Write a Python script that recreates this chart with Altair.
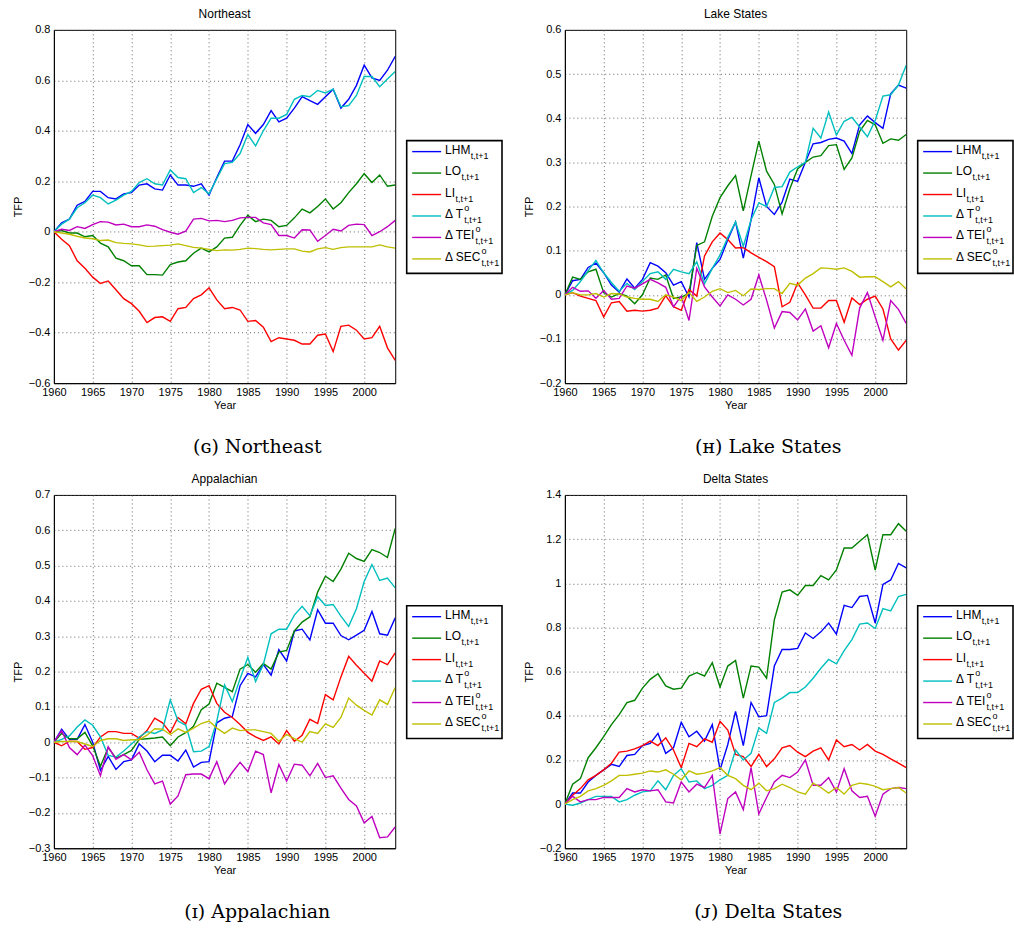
import altair as alt
import pandas as pd

# ---------------- data ----------------
years = list(range(1960, 2005))
series_keys = ["LHM", "LO", "LI", "dT", "dTEI", "dSEC"]
series_colors = ["#0000ff", "#008000", "#ff0000", "#00bfbf", "#bf00bf", "#bfbf00"]
legend_main = ["LHM", "LO", "LI", "Δ T", "Δ TEI", "Δ SEC"]
legend_sup = ["", "", "", "o", "o", "o"]
legend_sub = ["t,t+1"] * 6
x_ticks = [1960, 1965, 1970, 1975, 1980, 1985, 1990, 1995, 2000]

# Northeast
ne_lhm = [0, 0.035, 0.05, 0.105, 0.12, 0.16, 0.16, 0.135, 0.13, 0.15,
          0.155, 0.185, 0.19, 0.17, 0.165, 0.225, 0.185, 0.185, 0.18, 0.19,
          0.145, 0.215, 0.28, 0.28, 0.345, 0.425, 0.39, 0.425, 0.48, 0.435,
          0.45, 0.49, 0.535, 0.52, 0.505, 0.535, 0.565, 0.49, 0.525, 0.58,
          0.66, 0.61, 0.60, 0.64, 0.695]
ne_lo = [0, 0.005, -0.005, -0.005, -0.02, -0.015, -0.045, -0.06, -0.105, -0.115,
         -0.135, -0.135, -0.17, -0.17, -0.172, -0.13, -0.12, -0.115, -0.085, -0.065,
         -0.08, -0.06, -0.025, -0.022, 0.025, 0.065, 0.04, 0.05, 0.045, 0.02,
         0.025, 0.055, 0.09, 0.075, 0.1, 0.13, 0.09, 0.115, 0.155, 0.19,
         0.23, 0.195, 0.225, 0.18, 0.185]
ne_li = [0, -0.03, -0.055, -0.115, -0.145, -0.18, -0.205, -0.195, -0.23, -0.265,
         -0.285, -0.315, -0.36, -0.34, -0.337, -0.355, -0.305, -0.3, -0.265, -0.25,
         -0.222, -0.27, -0.305, -0.3, -0.31, -0.355, -0.352, -0.378, -0.435, -0.42,
         -0.425, -0.43, -0.445, -0.445, -0.41, -0.405, -0.475, -0.375, -0.37, -0.39,
         -0.425, -0.42, -0.375, -0.46, -0.51]
ne_dt = [0, 0.03, 0.05, 0.095, 0.115, 0.145, 0.135, 0.11, 0.125, 0.145,
         0.16, 0.195, 0.21, 0.19, 0.185, 0.245, 0.215, 0.21, 0.155, 0.175,
         0.15, 0.21, 0.27, 0.275, 0.31, 0.385, 0.34, 0.4, 0.45, 0.45,
         0.465, 0.525, 0.54, 0.535, 0.56, 0.55, 0.565, 0.495, 0.5, 0.54,
         0.615, 0.615, 0.575, 0.605, 0.635]
ne_dtei = [0, 0.01, 0.005, 0.02, 0.013, 0.028, 0.04, 0.038, 0.027, 0.03,
           0.02, 0.02, 0.027, 0.022, 0.008, -0.002, -0.01, 0.002, 0.05, 0.053,
           0.043, 0.045, 0.04, 0.045, 0.055, 0.057, 0.057, 0.035, 0.028, -0.015,
           -0.015, -0.025, 0.008, 0.007, -0.038, -0.015, 0.01, 0.003, 0.025, 0.03,
           0.028, -0.015, 0.0, 0.02, 0.045]
ne_dsec = [0, -0.005, -0.01, -0.018, -0.025, -0.028, -0.035, -0.033, -0.043, -0.046,
           -0.048, -0.052, -0.058, -0.057, -0.055, -0.053, -0.048, -0.055, -0.062, -0.065,
           -0.07, -0.075, -0.072, -0.073, -0.07, -0.065, -0.067, -0.07, -0.072, -0.07,
           -0.068, -0.068, -0.077, -0.08, -0.068, -0.063, -0.07, -0.063, -0.06, -0.06,
           -0.06, -0.06, -0.052, -0.06, -0.065]

# Lake States
ls_lhm = [0, 0.032, 0.035, 0.062, 0.072, 0.05, 0.022, 0.006, 0.036, 0.015,
          0.035, 0.073, 0.065, 0.05, 0.022, 0.03, -0.005, 0.118, 0.035, 0.06,
          0.08, 0.125, 0.165, 0.083, 0.17, 0.265, 0.2, 0.182, 0.21, 0.262,
          0.257, 0.3, 0.342, 0.345, 0.352, 0.355, 0.348, 0.32, 0.385, 0.405,
          0.39, 0.377, 0.455, 0.475, 0.468]
ls_lo = [0, 0.04, 0.035, 0.052, 0.058, 0.005, -0.005, 0.003, -0.003, -0.02,
         0.0, 0.038, 0.035, 0.045, -0.008, -0.005, 0.003, 0.112, 0.12, 0.178,
         0.22, 0.247, 0.27, 0.19, 0.27, 0.348, 0.28, 0.25, 0.183, 0.24,
         0.285, 0.3, 0.312, 0.315, 0.338, 0.34, 0.284, 0.31, 0.37, 0.395,
         0.385, 0.343, 0.353, 0.35, 0.363]
ls_li = [0, 0.005, -0.003, -0.008, -0.013, -0.05, -0.018, -0.015, -0.037, -0.035,
         -0.037, -0.035, -0.03, -0.002, -0.027, -0.035, 0.012, -0.003, 0.088, 0.12,
         0.14, 0.125, 0.106, 0.107, 0.095, 0.085, 0.075, 0.064, -0.027, -0.017,
         0.027, 0.0, -0.03, -0.03, -0.013, -0.013, -0.062, -0.007, -0.022, -0.01,
         -0.003, -0.032, -0.1, -0.125, -0.103]
ls_dt = [0, 0.01, 0.03, 0.055, 0.078, 0.05, 0.028, 0.008, 0.026, 0.012,
         0.03, 0.048, 0.052, 0.035, 0.058, 0.052, 0.048, 0.075, 0.025, 0.06,
         0.09, 0.13, 0.165, 0.11, 0.17, 0.208, 0.2, 0.243, 0.245, 0.278,
         0.29, 0.3, 0.377, 0.355, 0.414, 0.362, 0.393, 0.402, 0.38, 0.358,
         0.395, 0.45, 0.453, 0.475, 0.52]
ls_dtei = [0, 0.017, 0.008, 0.009, -0.008, 0.01, -0.01, -0.008, 0.02, 0.015,
           0.025, 0.035, 0.027, 0.017, -0.027, -0.003, -0.058, 0.06, 0.018, -0.005,
           -0.025, 0.0, -0.01, -0.023, -0.01, 0.045, -0.012, -0.075, -0.038, -0.04,
           -0.057, -0.032, -0.082, -0.07, -0.12, -0.065, -0.103, -0.137, -0.03, 0.005,
           -0.05, -0.103, -0.013, -0.033, -0.065]
ls_dsec = [0, 0.005, 0.0, 0.0, 0.003, -0.005, 0.003, 0.002, -0.005, -0.008,
           -0.01, -0.01, -0.015, 0.0, -0.005, -0.013, 0.005, -0.015, -0.005, 0.008,
           0.014, 0.005, 0.01, -0.002, 0.013, 0.012, 0.014, 0.014, 0.003, 0.026,
           0.022, 0.038, 0.048, 0.061, 0.06, 0.058, 0.061, 0.053, 0.04, 0.041,
           0.041, 0.03, 0.018, 0.03, 0.013]

# Appalachian
ap_lhm = [0, 0.037, 0.008, 0.008, 0.05, 0.0, -0.08, -0.04, -0.077, -0.055,
          -0.05, -0.005, -0.025, -0.055, -0.037, -0.037, -0.053, -0.022, -0.07, -0.057,
          -0.055, 0.055, 0.068, 0.073, 0.16, 0.195, 0.185, 0.22, 0.19, 0.262,
          0.23, 0.315, 0.32, 0.29, 0.375, 0.337, 0.337, 0.302, 0.29, 0.303,
          0.317, 0.37, 0.307, 0.303, 0.352]
ap_lo = [0, 0.025, 0.01, 0.01, 0.028, -0.01, -0.068, -0.015, -0.045, -0.035,
         -0.023, 0.008, 0.01, 0.012, 0.015, -0.01, 0.015, 0.027, 0.045, 0.092,
         0.108, 0.167, 0.155, 0.143, 0.207, 0.22, 0.198, 0.223, 0.207, 0.255,
         0.26, 0.315, 0.34, 0.355, 0.425, 0.47, 0.455, 0.49, 0.535, 0.52,
         0.512, 0.545, 0.537, 0.523, 0.605]
ap_li = [0, -0.01, 0.003, 0.002, -0.02, -0.015, 0.015, 0.03, 0.03, 0.025,
         0.025, 0.012, 0.033, 0.068, 0.055, 0.027, 0.07, 0.052, 0.11, 0.15,
         0.16, 0.11, 0.085, 0.07, 0.05, 0.028, 0.015, 0.005, 0.015, -0.005,
         0.033, 0.003, 0.02, 0.065, 0.053, 0.135, 0.12, 0.185, 0.243, 0.218,
         0.195, 0.173, 0.23, 0.22, 0.253]
ap_dt = [0, 0.008, 0.018, 0.043, 0.063, 0.048, 0.015, -0.037, -0.042, -0.025,
         -0.005, 0.015, 0.03, 0.025, 0.035, 0.12, 0.06, 0.048, -0.027, -0.025,
         -0.012, 0.06, 0.162, 0.115, 0.18, 0.24, 0.172, 0.22, 0.307, 0.32,
         0.32, 0.36, 0.385, 0.358, 0.412, 0.387, 0.39, 0.357, 0.328, 0.378,
         0.455, 0.503, 0.458, 0.465, 0.437]
ap_dtei = [0, 0.033, -0.015, -0.035, -0.008, -0.038, -0.095, -0.013, -0.048, -0.035,
           -0.05, -0.028, -0.078, -0.118, -0.11, -0.175, -0.152, -0.092, -0.09, -0.09,
           -0.103, -0.055, -0.118, -0.085, -0.057, -0.083, -0.025, -0.035, -0.143, -0.063,
           -0.11, -0.062, -0.065, -0.095, -0.06, -0.1, -0.095, -0.13, -0.162, -0.18,
           -0.228, -0.21, -0.27, -0.268, -0.24]
ap_dsec = [0, 0.002, 0.002, 0.002, -0.005, -0.012, 0.005, 0.01, 0.01, 0.005,
           0.007, 0.007, 0.02, 0.038, 0.037, 0.022, 0.038, 0.028, 0.04, 0.053,
           0.06, 0.04, 0.025, 0.04, 0.033, 0.035, 0.035, 0.03, 0.025, 0.003,
           0.022, 0.01, 0.0, 0.03, 0.025, 0.052, 0.042, 0.07, 0.125, 0.105,
           0.09, 0.077, 0.12, 0.107, 0.155]

# Delta States
ds_lhm = [0, 0.05, 0.05, 0.1, 0.13, 0.155, 0.18, 0.17, 0.22, 0.225,
          0.265, 0.275, 0.32, 0.23, 0.255, 0.37, 0.305, 0.33, 0.285, 0.36,
          0.155, 0.27, 0.42, 0.265, 0.46, 0.395, 0.4, 0.625, 0.7, 0.7,
          0.705, 0.775, 0.75, 0.78, 0.82, 0.77, 0.9, 0.89, 0.94, 0.945,
          0.82, 0.995, 1.015, 1.09, 1.07]
ds_lo = [0, 0.09, 0.115, 0.21, 0.255, 0.305, 0.36, 0.405, 0.46, 0.47,
         0.525, 0.565, 0.59, 0.535, 0.52, 0.525, 0.58, 0.595, 0.58, 0.64,
         0.53, 0.625, 0.65, 0.48, 0.625, 0.62, 0.57, 0.835, 0.96, 0.97,
         0.945, 0.99, 0.99, 1.035, 1.015, 1.06, 1.16, 1.16, 1.19, 1.22,
         1.06, 1.22, 1.22, 1.27, 1.235]
ds_li = [0, 0.04, 0.07, 0.11, 0.13, 0.155, 0.185, 0.235, 0.24, 0.25,
         0.265, 0.285, 0.265, 0.3, 0.245, 0.165, 0.275, 0.26, 0.295, 0.28,
         0.375, 0.335, 0.225, 0.215, 0.17, 0.225, 0.17, 0.205, 0.255, 0.265,
         0.235, 0.215, 0.24, 0.255, 0.2, 0.29, 0.26, 0.27, 0.245, 0.27,
         0.24, 0.225, 0.205, 0.185, 0.165]
ds_dt = [0, -0.005, 0.005, 0.02, 0.035, 0.035, 0.035, 0.01, 0.02, 0.04,
         0.055, 0.06, 0.105, 0.065, 0.13, 0.16, 0.1, 0.105, 0.07, 0.085,
         0.11, 0.13, 0.245, 0.2, 0.23, 0.345, 0.32, 0.46, 0.48, 0.505,
         0.505, 0.53, 0.57, 0.615, 0.655, 0.635, 0.695, 0.745, 0.815, 0.82,
         0.795, 0.885, 0.875, 0.94, 0.95]
ds_dtei = [0, 0.035, 0.01, 0.02, 0.02, 0.03, 0.03, 0.03, 0.07, 0.055,
           0.065, 0.06, 0.065, 0.01, 0.005, 0.1, 0.055, 0.09, 0.075, 0.13,
           -0.135, 0.025, 0.055, -0.025, 0.165, -0.045, 0.03, 0.1, 0.13, 0.12,
           0.145, 0.2, 0.085, 0.085, 0.12, 0.055, 0.16, 0.06, 0.03, 0.035,
           -0.055, 0.045, 0.07, 0.075, 0.07]
ds_dsec = [0, 0.02, 0.035, 0.06, 0.07, 0.085, 0.105, 0.13, 0.13, 0.135,
           0.14, 0.15, 0.145, 0.155, 0.135, 0.11, 0.15, 0.135, 0.14, 0.15,
           0.165, 0.13, 0.115, 0.085, 0.065, 0.095, 0.06, 0.07, 0.09, 0.075,
           0.055, 0.045, 0.095, 0.075, 0.05, 0.075, 0.045, 0.085, 0.095, 0.09,
           0.08, 0.065, 0.07, 0.075, 0.05]

panels = [
    dict(title="Northeast", caption="(ɢ) Northeast",
         series=[ne_lhm, ne_lo, ne_li, ne_dt, ne_dtei, ne_dsec],
         ydom=[-0.6, 0.8], yticks=[i / 10 for i in range(-6, 9, 2)]),
    dict(title="Lake States", caption="(ʜ) Lake States",
         series=[ls_lhm, ls_lo, ls_li, ls_dt, ls_dtei, ls_dsec],
         ydom=[-0.2, 0.6], yticks=[i / 10 for i in range(-2, 7)]),
    dict(title="Appalachian", caption="(ɪ) Appalachian",
         series=[ap_lhm, ap_lo, ap_li, ap_dt, ap_dtei, ap_dsec],
         ydom=[-0.3, 0.7], yticks=[i / 10 for i in range(-3, 8)]),
    dict(title="Delta States", caption="(ᴊ) Delta States",
         series=[ds_lhm, ds_lo, ds_li, ds_dt, ds_dtei, ds_dsec],
         ydom=[-0.2, 1.4], yticks=[i / 10 for i in range(-2, 15, 2)]),
]

PLOT_W, PLOT_H = 342, 354
LEG_W = 96
FONT = "Liberation Sans"
TITLE_OFFSET = 3
TITLE_SIZE = 12

color_scale = alt.Scale(domain=series_keys, range=series_colors)


def plot_panel(p):
    rows = []
    for key, vals in zip(series_keys, p["series"]):
        assert len(vals) == len(years), (p["title"], key, len(vals))
        for yr, v in zip(years, vals):
            rows.append({"year": yr, "series": key, "value": v})
    df = pd.DataFrame(rows)
    return alt.Chart(df).mark_line(strokeWidth=1.4, clip=True).encode(
        x=alt.X("year:Q",
                scale=alt.Scale(domain=[1960, 2004], nice=False, zero=False),
                axis=alt.Axis(values=x_ticks, format="d", title="Year", labelFlush=False)),
        y=alt.Y("value:Q",
                scale=alt.Scale(domain=p["ydom"], nice=False, zero=False),
                axis=alt.Axis(values=p["yticks"], format=".1~f", title="TFP", labelFlush=False)),
        color=alt.Color("series:N", scale=color_scale, legend=None),
    ).properties(
        width=PLOT_W, height=PLOT_H,
        title=alt.TitleParams(p["title"], font=FONT, fontSize=TITLE_SIZE, fontWeight="normal",
                              color="black", offset=TITLE_OFFSET, anchor="middle"),
    )


def legend_panel(p):
    # approximate text widths (Arial metrics, 12 px) to place sub/superscripts
    main_w = [25.3, 16.0, 10.0, 18.7, 30.0, 36.0]
    x0 = 39
    leg = pd.DataFrame({
        "key": series_keys, "main": legend_main, "sup": legend_sup, "sub": legend_sub,
        "subx": [x0 + w + 0.5 for w in main_w],
    })
    yenc = alt.Y("key:N", scale=alt.Scale(type="point", domain=series_keys,
                                          range=[122, 229.5], padding=0), axis=None)
    box = alt.Chart(pd.DataFrame({"k": [0]})).mark_rect(
        fill="white", stroke="black", strokeWidth=1.6
    ).encode(x=alt.value(0.5), x2=alt.value(LEG_W), y=alt.value(111), y2=alt.value(244))
    base = alt.Chart(leg)
    rule = base.mark_rule(strokeWidth=1.4).encode(
        x=alt.value(6), x2=alt.value(35), y=yenc,
        color=alt.Color("key:N", scale=color_scale, legend=None))
    main = base.mark_text(align="left", baseline="middle", font=FONT, fontSize=12,
                          dy=-2, color="black").encode(x=alt.value(x0), y=yenc, text="main:N")
    sub = base.mark_text(align="left", baseline="middle", font=FONT, fontSize=9,
                         dy=4, color="black").encode(
        x=alt.X("subx:Q", scale=None), y=yenc, text="sub:N")
    sup = base.mark_text(align="left", baseline="middle", font=FONT, fontSize=9,
                         dy=-8, color="black").encode(
        x=alt.X("subx:Q", scale=None), y=yenc, text="sup:N")
    return alt.layer(box, rule, main, sub, sup).properties(
        width=LEG_W, height=PLOT_H,
        title=alt.TitleParams(p["title"], font=FONT, fontSize=TITLE_SIZE, fontWeight="normal",
                              color="transparent", offset=TITLE_OFFSET, anchor="middle"),
        view=alt.ViewBackground(strokeOpacity=0),
    )


def cell(p):
    return alt.hconcat(plot_panel(p), legend_panel(p), spacing=9).properties(
        title=alt.TitleParams(p["caption"], orient="bottom", anchor="middle",
                              font="DejaVu Serif", fontSize=19, fontWeight="normal",
                              color="black", offset=27)
    )


chart = alt.vconcat(
    alt.hconcat(cell(panels[0]), cell(panels[1]), spacing=19),
    alt.hconcat(cell(panels[2]), cell(panels[3]), spacing=19),
    spacing=15,
).properties(
    padding={"left": 11, "top": 6, "right": 0, "bottom": 0},
    background="white",
).configure_view(
    stroke="black", strokeWidth=1
).configure_axis(
    labelFont=FONT, labelFontSize=11, labelColor="black",
    titleFont=FONT, titleFontSize=11, titleFontWeight="normal", titleColor="black",
    domainColor="black", domainWidth=1, ticks=False,
    gridColor="#555555", gridDash=[1, 3], gridWidth=1, gridOpacity=0.9,
    labelPadding=4,
).configure_axisY(titlePadding=5).configure_axisX(titlePadding=2, labelPadding=3)

chart.save("out.html", embed_options={"renderer": "svg", "actions": False})
